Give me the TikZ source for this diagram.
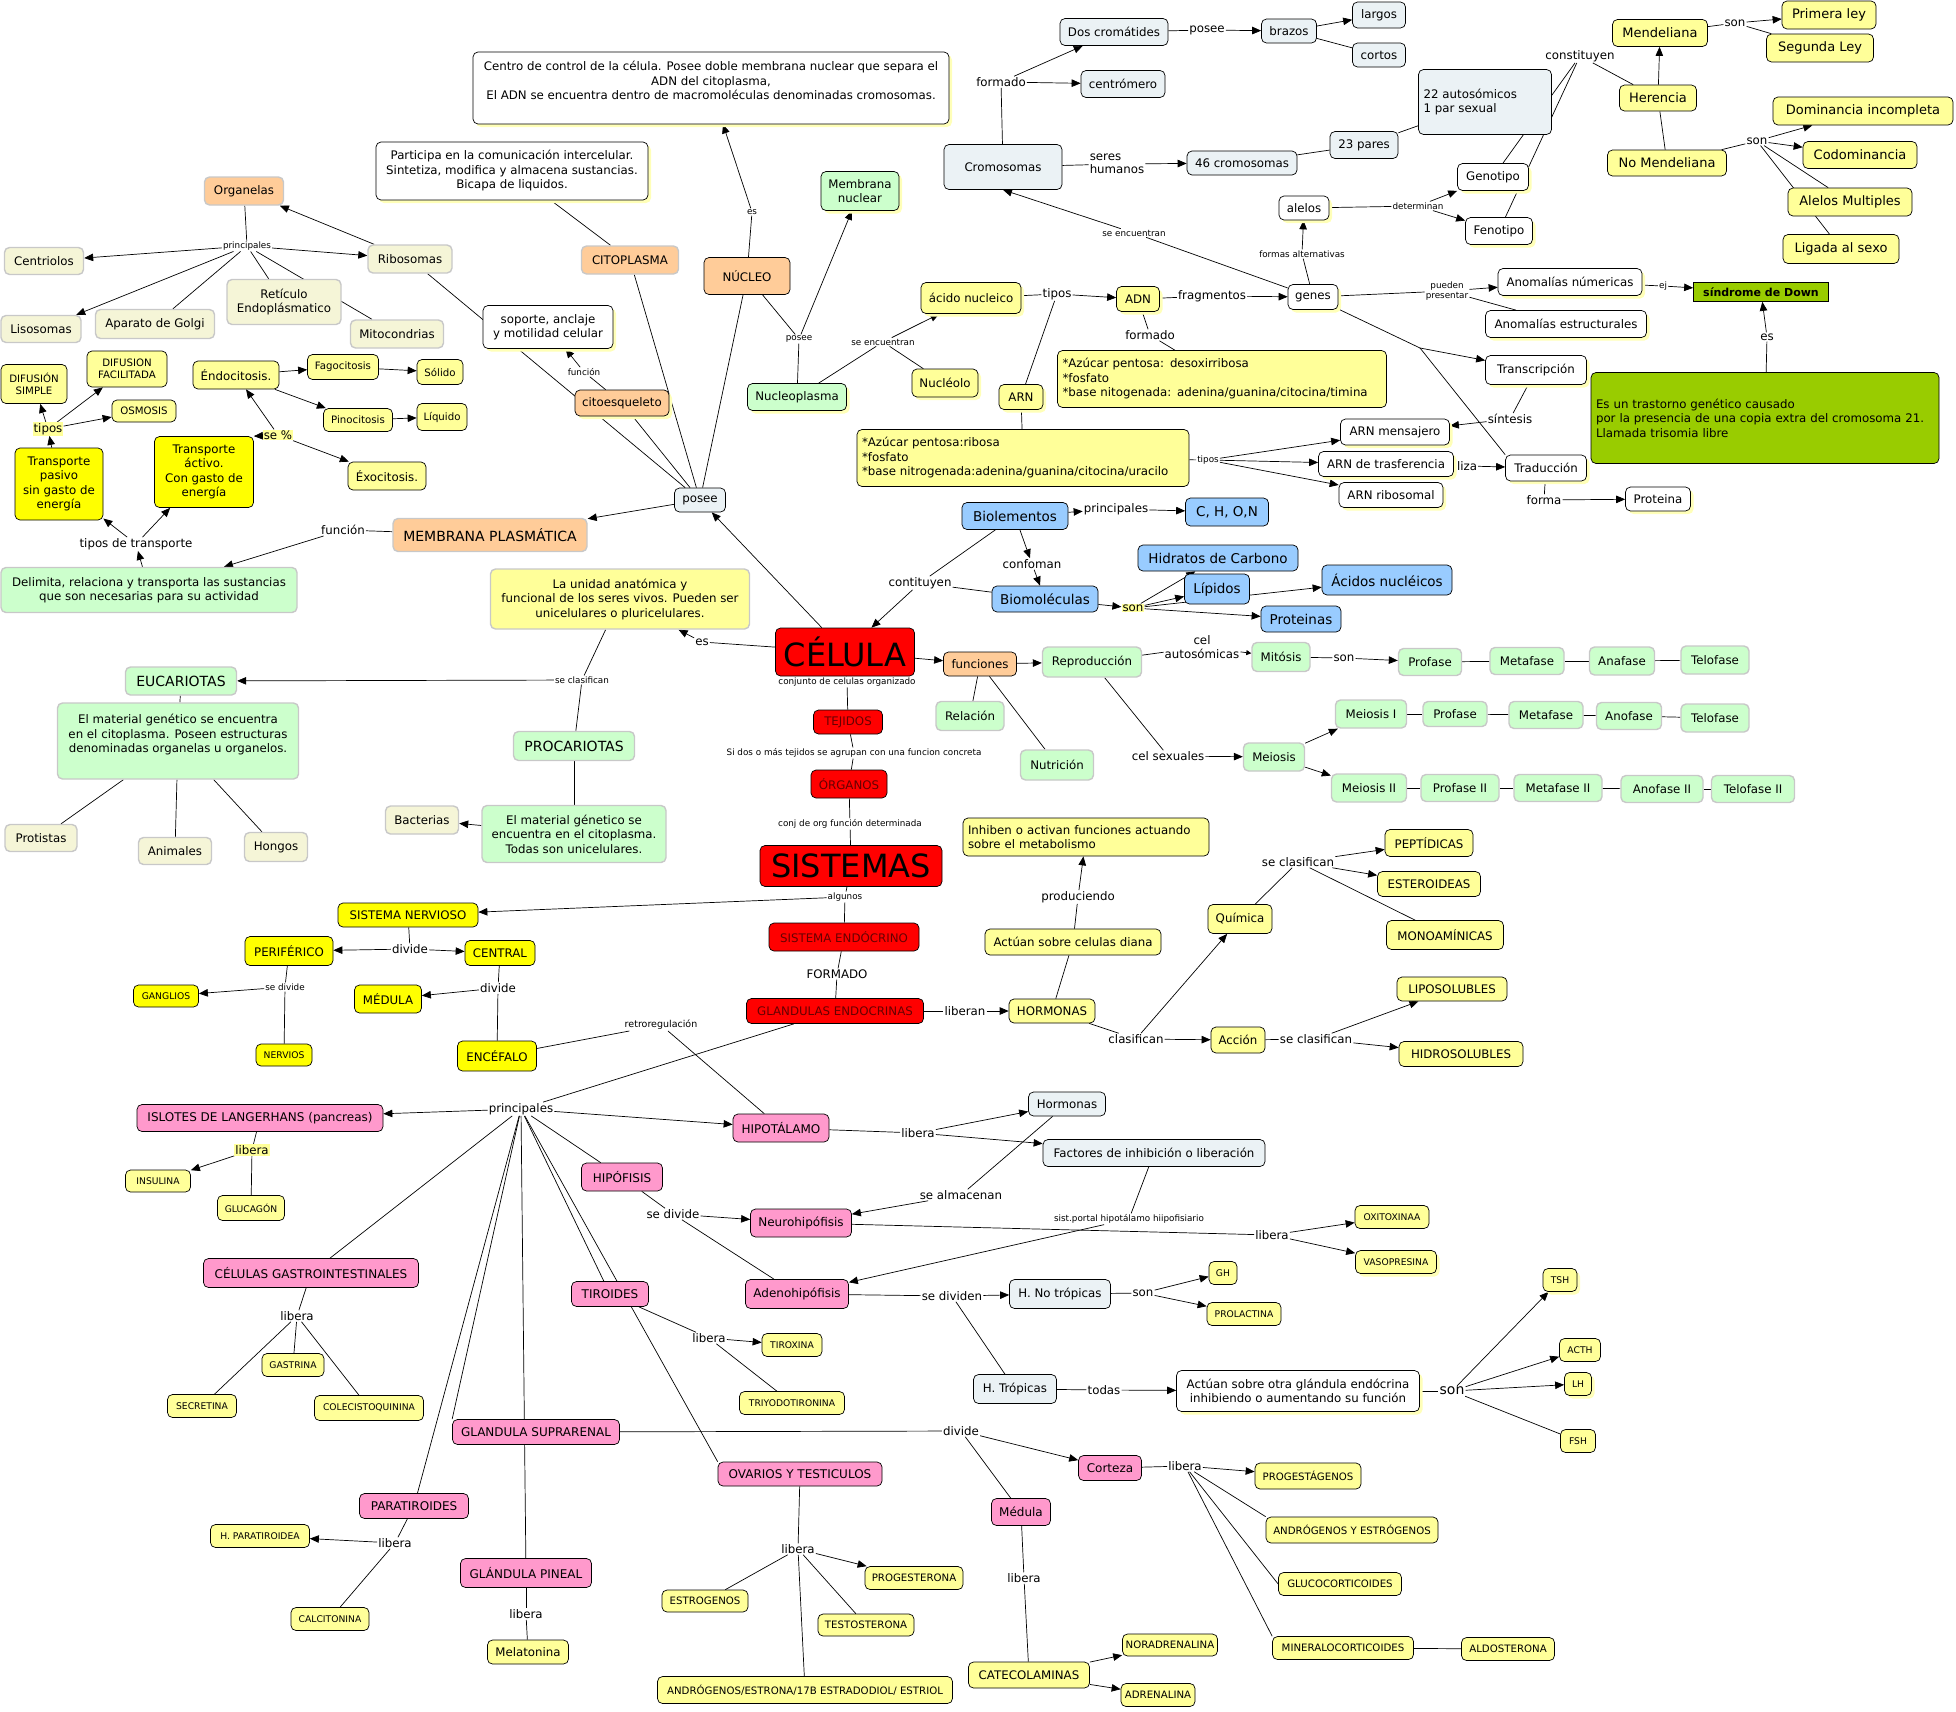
\documentclass[tikz,border=0pt]{standalone}
\usepackage{fontspec}
\setmainfont{DejaVu Sans}
\usetikzlibrary{arrows.meta,shadows}
\definecolor{cOr}{HTML}{FFCC99}
\definecolor{cYel}{HTML}{FFFF99}
\definecolor{cYelB}{HTML}{FFFF00}
\definecolor{cGrn}{HTML}{CCFFCC}
\definecolor{cBei}{HTML}{F5F5D7}
\definecolor{cBlu}{HTML}{99CCFF}
\definecolor{cGB}{HTML}{EBF2F5}
\definecolor{cPnk}{HTML}{FF99CC}
\definecolor{cRed}{HTML}{FF0000}
\definecolor{cDR}{HTML}{660000}
\definecolor{cOlv}{HTML}{99CC00}
\definecolor{cGry}{HTML}{C8C8C8}
\definecolor{cShd}{HTML}{FFFFB8}
\pgfdeclarelayer{bglayer}\pgfdeclarelayer{edges}\pgfsetlayers{bglayer,edges,main}
\newcommand\nd[7]{\node[#1,minimum width=#5pt,minimum height=#6pt] (#2) at (#3,#4) {#7};}
\newcommand\lb[5]{\node[lab,#1] (#2) at (#3,#4) {#5};}
\tikzset{
 box/.style={rounded corners=5pt, align=center, inner xsep=3pt, inner ysep=2pt, line width=0.7pt, font=\fontsize{11.8}{14.5}\selectfont},
 gry/.style={box, draw=cGry, line width=1.4pt},
 blk/.style={box, draw=black},
 shd/.style={drop shadow={shadow xshift=3pt,shadow yshift=-3pt,fill=cShd,opacity=1}},
 orG/.style={gry, fill=cOr}, orB/.style={blk, fill=cOr},
 bei/.style={gry, fill=cBei},
 grn/.style={gry, fill=cGrn}, grnB/.style={blk, fill=cGrn, shd},
 yel/.style={blk, fill=cYel}, yelG/.style={gry, fill=cYel},
 yeB/.style={blk, fill=cYelB},
 wht/.style={blk, fill=white, shd},
 gb/.style={blk, fill=cGB},
 blu/.style={blk, fill=cBlu, font=\fontsize{13.5}{16}\selectfont},
 pnk/.style={blk, fill=cPnk, font=\fontsize{12}{14.5}\selectfont},
 rd/.style={blk, fill=cRed, text=cDR},
 olv/.style={blk, fill=cOlv},
 xs/.style={font=\fontsize{9.2}{11}\selectfont},
 sm/.style={font=\fontsize{10.2}{12}\selectfont},
 big/.style={font=\fontsize{13}{15.5}\selectfont},
 bgf/.style={font=\fontsize{14}{16.5}\selectfont},
 lab/.style={inner sep=1pt, font=\fontsize{11.8}{13.5}\selectfont, align=center},
 ls/.style={font=\fontsize{8.8}{10.5}\selectfont},
 hl/.style={fill=cYel},
 ln/.style={line width=0.7pt},
 ar/.style={line width=0.7pt, -{Triangle[length=9pt,width=7.5pt]}},
 ars/.style={line width=0.7pt, -{Triangle[length=5pt,width=5pt]}},
}
\begin{document}
\begin{tikzpicture}[x=1pt,y=-1pt]
\useasboundingbox (0,0) rectangle (1956,1711);
\begin{pgfonlayer}{bglayer}\fill[white] (0,0) rectangle (1956,1711);\end{pgfonlayer}
% ---------- top-left ----------
\nd{orG}{org}{244}{191}{79}{28}{Organelas}
\lb{ls}{lbp1}{247}{246}{principales}
\nd{bei}{cen}{44}{261}{79}{27}{Centriolos}
\nd{bei}{rib}{410}{259}{84}{28}{Ribosomas}
\nd{bei}{lis}{41}{329}{80}{27}{Lisosomas}
\nd{bei}{gol}{155}{324}{119}{29}{Aparato de Golgi}
\nd{bei}{ret}{284}{302}{114}{45}{Retículo\\Endoplásmatico}
\nd{bei}{mit}{397}{334}{93}{28}{Mitocondrias}
\nd{wht}{part}{512}{171}{272}{58}{Participa en la comunicación intercelular.\\Sintetiza, modifica y almacena sustancias.\\Bicapa de liquidos.}
\nd{wht}{centro}{711}{88}{476}{72}{Centro de control de la célula. Posee doble membrana nuclear que separa el\\ADN del citoplasma,\\El ADN se encuentra dentro de macromoléculas denominadas cromosomas.\\\mbox{}}
\nd{yel,sm}{dsim}{34}{384}{66}{39}{DIFUSIÓN\\SIMPLE}
\nd{yel,sm}{dfac}{127}{369}{80}{36}{DIFUSION\\FACILITADA}
\nd{yel,sm}{osm}{144}{411}{64}{22}{OSMOSIS}
\lb{hl}{lbtip}{48}{429}{tipos}
\nd{yeB}{tpas}{59}{484}{88}{72}{Transporte\\pasivo\\sin gasto de\\energía}
\nd{yeB}{tact}{204}{472}{99}{71}{Transporte\\áctivo.\\Con gasto de\\energía}
\nd{yel}{endo}{236}{375}{86}{28}{Éndocitosis.}
\nd{yel,sm}{fago}{343}{367}{71}{25}{Fagocitosis}
\nd{yel,sm}{sol}{440}{372}{46}{25}{Sólido}
\nd{yel,sm}{pino}{358}{420}{69}{23}{Pinocitosis}
\nd{yel,sm}{liq}{442}{417}{50}{27}{Líquido}
\lb{hl}{lbsep}{278}{435}{se \%}
\nd{yel}{exo}{387}{476}{78}{28}{Éxocitosis.}
\lb{}{lbttr}{136}{544}{tipos de transporte}
\lb{}{lbfun}{343}{530}{función}
\nd{orG,bgf}{memb}{490}{535}{194}{33}{MEMBRANA PLASMÁTICA}
\nd{grn}{del}{149}{590}{296}{45}{Delimita, relaciona y transporta las sustancias\\que son necesarias para su actividad}
% ---------- centre-top ----------
\lb{ls}{lbes1}{752}{212}{es}
\nd{grnB}{mnuc}{860}{191}{78}{39}{Membrana\\nuclear}
\nd{orG}{cito}{630}{260}{97}{28}{CITOPLASMA}
\nd{orB}{nuc}{747}{276}{86}{37}{NÚCLEO}
\nd{wht}{sop}{548}{327}{130}{43}{soporte, anclaje\\y motilidad celular}
\lb{ls}{lbfun2}{584}{372}{función}
\nd{orB,shd}{cite}{622}{403}{94}{26}{citoesqueleto}
\nd{gb}{pos}{700}{500}{51}{24}{posee}
\lb{ls}{lbpos2}{799}{339}{posee}
\nd{grnB}{nucp}{797}{397}{99}{27}{Nucleoplasma}
\lb{ls}{lbsenc}{883}{342}{se encuentran}
\nd{yel,shd}{nucl}{945}{383}{66}{28}{Nucléolo}
\nd{yel,shd}{acn}{971}{298}{100}{31}{ácido nucleico}
% ---------- right-top ----------
\nd{gb}{dosc}{1114}{32}{108}{27}{Dos cromátides}
\lb{}{lbpos3}{1207}{30}{posee}
\nd{gb}{braz}{1289}{31}{55}{24}{brazos}
\nd{gb}{larg}{1379}{15}{53}{26}{largos}
\nd{gb}{cort}{1379}{55}{53}{24}{cortos}
\lb{}{lbform1}{1001}{82}{formado}
\nd{gb}{cmero}{1123}{84}{84}{27}{centrómero}
\nd{gb}{crom}{1003}{167}{118}{45}{Cromosomas}
\lb{align=left}{lbseres}{1117}{164}{seres\\humanos}
\nd{gb}{c46}{1242}{163}{110}{24}{46 cromosomas}
\nd{gb}{p23}{1364}{145}{68}{27}{23 pares}
\nd{gb,align=left,text width=123pt}{aut}{1485}{102}{133}{65}{22 autosómicos\\1 par sexual}
\nd{wht}{alel}{1304}{208}{50}{24}{alelos}
\lb{ls}{lbdet}{1418}{206}{determinan}
\lb{ls}{lbsenc2}{1134}{233}{se encuentran}
\lb{ls}{lbfalt}{1302}{254}{formas alternativas}
\nd{wht}{gen}{1313}{297}{50}{25}{genes}
\lb{ls}{lbpp}{1447}{291}{pueden\\presentar}
\lb{}{lbtip1}{1057}{294}{tipos}
\nd{yel,shd}{adn}{1138}{299}{43}{25}{ADN}
\lb{}{lbfrag}{1212}{296}{fragmentos}
\lb{}{lbform2}{1150}{335}{formado}
\nd{yel,align=left,text width=319pt}{desb}{1222}{379}{329}{57}{*Azúcar pentosa: desoxirribosa\\{}*fosfato\\{}*base nitogenada: adenina/guanina/citocina/timina}
\nd{yel,shd}{arn}{1021}{397}{44}{25}{ARN}
\nd{yel,align=left,text width=322pt}{ribb}{1023}{458}{332}{57}{*Azúcar pentosa:ribosa\\{}*fosfato\\{}*base nitrogenada:adenina/guanina/citocina/uracilo}
\lb{ls}{lbtip2}{1208}{460}{tipos}
\nd{wht}{arnm}{1395}{432}{109}{26}{ARN mensajero}
\nd{wht}{arnt}{1386}{464}{135}{25}{ARN de trasferencia}
\nd{wht}{arnr}{1391}{495}{104}{25}{ARN ribosomal}
\nd{blu}{bio}{1015}{516}{106}{27}{Biolementos}
\lb{}{lbp2}{1116}{509}{principales}
\nd{blu}{chon}{1227}{512}{83}{28}{C, H, O,N}
\lb{}{lbconf}{1032}{564}{confoman}
\nd{blu}{hid}{1218}{558}{160}{26}{Hidratos de Carbono}
\nd{blu}{biom}{1045}{599}{106}{26}{Biomoléculas}
\lb{hl}{lbson1}{1133}{608}{son}
\nd{blu}{lip}{1217}{589}{65}{30}{Lípidos}
\nd{blu}{acnu}{1387}{580}{130}{30}{Ácidos nucléicos}
\nd{blu}{prot}{1301}{619}{80}{26}{Proteinas}
% ---------- far right ----------
\nd{yel,big}{mend}{1660}{33}{95}{27}{Mendeliana}
\lb{}{lbson2}{1735}{23}{son}
\nd{yel,big}{prim}{1829}{15}{94}{28}{Primera ley}
\nd{yel,big}{seg}{1820}{48}{107}{28}{Segunda Ley}
\lb{}{lbconst}{1580}{56}{constituyen}
\nd{yel,big}{her}{1658}{98}{77}{26}{Herencia}
\nd{yel,big}{nomend}{1667}{163}{119}{26}{No Mendeliana}
\nd{yel,big}{dom}{1863}{111}{180}{28}{Dominancia incompleta}
\lb{}{lbson3}{1757}{141}{son}
\nd{yel,big}{cod}{1860}{155}{114}{27}{Codominancia}
\nd{yel,big}{alm}{1850}{202}{124}{28}{Alelos Multiples}
\nd{yel,big}{lig}{1841}{249}{116}{29}{Ligada al sexo}
\nd{wht}{geno}{1493}{177}{71}{27}{Genotipo}
\nd{wht}{feno}{1499}{231}{67}{27}{Fenotipo}
\nd{wht}{anum}{1570}{282}{144}{27}{Anomalías númericas}
\lb{ls}{lbej}{1663}{286}{ej}
\nd{olv,sharp corners,font=\fontsize{11}{13}\selectfont\bfseries}{down}{1761}{292}{135}{19}{síndrome de Down}
\nd{wht}{aest}{1566}{324}{161}{27}{Anomalías estructurales}
\lb{}{lbes2}{1767}{337}{es}
\nd{wht}{trans}{1536}{370}{101}{29}{Transcripción}
\nd{olv,align=left,text width=338pt}{ddesc}{1765}{418}{348}{91}{Es un trastorno genético causado\\por la presencia de una copia extra del cromosoma 21.\\Llamada trisomia libre}
\lb{}{lbsint}{1510}{419}{síntesis}
\nd{wht}{trad}{1546}{468}{81}{26}{Traducción}
\lb{}{lbliza}{1467}{466}{liza}
\lb{}{lbforma}{1544}{500}{forma}
\nd{wht}{prote}{1658}{499}{65}{24}{Proteina}
\coordinate (gx) at (1420,348);
% ---------- centre ----------
\nd{yelG}{unid}{620}{599}{259}{60}{La unidad anatómica y\\funcional de los seres vivos. Pueden ser\\unicelulares o pluricelulares.}
\lb{}{lbes3}{702}{642}{es}
\nd{blk,fill=cRed,font=\fontsize{32}{36}\selectfont}{cel}{845}{652}{139}{48}{CÉLULA}
\lb{ls}{lbconj}{847}{682}{conjunto de celulas organizado}
\nd{rd}{tej}{848}{722}{69}{24}{TEJIDOS}
\lb{ls}{lbsidos}{854}{753}{Si dos o más tejidos se agrupan con una funcion concreta}
\nd{rd}{org2}{849}{784}{76}{28}{ÓRGANOS}
\lb{ls}{lbconj2}{850}{824}{conj de org función determinada}
\nd{blk,fill=cRed,font=\fontsize{32}{36}\selectfont}{sis}{851}{866}{182}{41}{SISTEMAS}
\lb{ls}{lbalg}{845}{897}{algunos}
\nd{rd}{send}{844}{937}{150}{28}{SISTEMA ENDÓCRINO}
\lb{}{lbfmd}{837}{974}{FORMADO}
\nd{rd}{glen}{835}{1011}{177}{25}{GLANDULAS ENDOCRINAS}
\lb{}{lblib1}{965}{1011}{liberan}
\lb{}{lbcontit}{920}{583}{contituyen}
\nd{orB}{fun}{980}{664}{73}{24}{funciones}
\nd{grn}{rel}{970}{716}{68}{29}{Relación}
\nd{grn}{rep}{1092}{662}{99}{30}{Reproducción}
\lb{}{lbcauto}{1202}{647}{cel\\autosómicas}
\nd{grn}{mito}{1281}{657}{58}{29}{Mitósis}
\lb{}{lbson4}{1344}{658}{son}
\nd{grn}{prof}{1430}{662}{63}{27}{Profase}
\nd{grn}{meta}{1527}{661}{74}{27}{Metafase}
\nd{grn}{ana}{1622}{661}{65}{28}{Anafase}
\nd{grn}{telo}{1715}{660}{68}{28}{Telofase}
\nd{grn}{nutr}{1057}{765}{73}{30}{Nutrición}
\lb{}{lbcsex}{1168}{756}{cel sexuales}
\nd{grn}{meio}{1274}{757}{61}{28}{Meiosis}
\nd{grn}{mei1}{1371}{714}{71}{28}{Meiosis I}
\nd{grn}{prof1}{1455}{714}{64}{25}{Profase}
\nd{grn}{meta1}{1546}{715}{74}{27}{Metafase}
\nd{grn}{ana1}{1629}{716}{65}{27}{Anofase}
\nd{grn}{telo1}{1715}{718}{68}{28}{Telofase}
\nd{grn}{mei2}{1369}{788}{75}{28}{Meiosis II}
\nd{grn}{prof2}{1460}{788}{78}{27}{Profase II}
\nd{grn}{meta2}{1558}{788}{88}{27}{Metafase II}
\nd{grn}{ana2}{1662}{789}{82}{27}{Anofase II}
\nd{grn}{telo2}{1753}{789}{83}{27}{Telofase II}
% ---------- classification ----------
\lb{ls}{lbsecl}{582}{680}{se clasifican}
\nd{grn,bgf}{euc}{181}{681}{111}{28}{EUCARIOTAS}
\nd{grn}{eucb}{178}{741}{241}{76}{El material genético se encuentra\\en el citoplasma. Poseen estructuras\\denominadas organelas u organelos.\\\mbox{}}
\nd{bei}{prot2}{41}{838}{72}{27}{Protistas}
\nd{bei}{anim}{175}{851}{73}{27}{Animales}
\nd{bei}{hong}{276}{847}{63}{29}{Hongos}
\nd{grn,bgf}{proc}{574}{746}{121}{29}{PROCARIOTAS}
\nd{grn}{procb}{574}{834}{184}{57}{El material génetico se\\encuentra en el citoplasma.\\Todas son unicelulares.}
\nd{bei}{bact}{422}{820}{73}{28}{Bacterias}
% ---------- hormones ----------
\nd{yel,align=left,text width=236pt}{inh}{1086}{837}{246}{38}{Inhiben o activan funciones actuando\\sobre el metabolismo}
\lb{}{lbprod}{1078}{897}{produciendo}
\nd{yel}{actd}{1073}{942}{176}{26}{Actúan sobre celulas diana}
\nd{yel}{quim}{1240}{919}{64}{29}{Química}
\lb{}{lbsecl2}{1298}{862}{se clasifican}
\nd{yel}{pep}{1429}{843}{88}{27}{PEPTÍDICAS}
\nd{yel}{est}{1429}{884}{103}{25}{ESTEROIDEAS}
\nd{yel}{mono}{1445}{935}{117}{29}{MONOAMÍNICAS}
\nd{yel}{horm}{1052}{1011}{86}{24}{HORMONAS}
\lb{}{lbclas}{1136}{1039}{clasifican}
\nd{yel}{acc}{1238}{1040}{54}{26}{Acción}
\lb{}{lbsecl3}{1316}{1039}{se clasifican}
\nd{yel}{lipo}{1452}{989}{110}{24}{LIPOSOLUBLES}
\nd{yel}{hidro}{1461}{1054}{124}{25}{HIDROSOLUBLES}
% ---------- nervous ----------
\nd{yeB}{snerv}{408}{915}{140}{24}{SISTEMA NERVIOSO}
\nd{yeB}{peri}{289}{951}{88}{29}{PERIFÉRICO}
\lb{}{lbdiv1}{410}{949}{divide}
\nd{yeB}{cent2}{500}{953}{70}{25}{CENTRAL}
\nd{yeB,xs}{gang}{166}{996}{65}{22}{GANGLIOS}
\lb{ls}{lbsdiv}{285}{987}{se divide}
\nd{yeB}{med1}{388}{999}{67}{28}{MÉDULA}
\lb{}{lbdiv2}{498}{988}{divide}
\nd{yeB,xs}{nerv}{284}{1055}{56}{22}{NERVIOS}
\nd{yeB}{ence}{497}{1056}{79}{30}{ENCÉFALO}
% ---------- endocrine ----------
\lb{font=\fontsize{9.5}{11}\selectfont}{lbretro}{661}{1025}{retroregulación}
\lb{}{lbp3}{521}{1109}{principales}
\nd{pnk}{islo}{260}{1118}{246}{27}{ISLOTES DE LANGERHANS (pancreas)}
\nd{pnk}{hipo}{781}{1128}{96}{28}{HIPOTÁLAMO}
\lb{hl}{lblib2}{252}{1150}{libera}
\nd{yel,xs}{insu}{158}{1181}{65}{22}{INSULINA}
\nd{yel,xs}{gluc}{251}{1208}{67}{25}{GLUCAGÓN}
\nd{pnk}{cgas}{311}{1273}{215}{29}{CÉLULAS GASTROINTESTINALES}
\lb{}{lblib3}{297}{1316}{libera}
\nd{yel,xs}{gast}{293}{1365}{62}{23}{GASTRINA}
\nd{yel,xs}{secr}{202}{1406}{69}{23}{SECRETINA}
\nd{yel,xs}{cole}{369}{1408}{109}{25}{COLECISTOQUININA}
\nd{pnk}{para}{414}{1506}{109}{25}{PARATIROIDES}
\nd{yel,xs}{hpar}{260}{1536}{99}{23}{H. PARATIROIDEA}
\lb{}{lblib4}{395}{1543}{libera}
\nd{yel,xs}{calc}{330}{1619}{78}{23}{CALCITONINA}
\nd{pnk}{supr}{536}{1432}{167}{25}{GLANDULA SUPRARENAL}
\nd{pnk}{pine}{526}{1573}{131}{29}{GLÁNDULA PINEAL}
\lb{}{lblib5}{526}{1614}{libera}
\nd{yel}{mela}{528}{1652}{81}{24}{Melatonina}
\nd{pnk}{hipf}{622}{1177}{81}{28}{HIPÓFISIS}
\lb{}{lbsdiv2}{673}{1214}{se divide}
\nd{pnk}{neur}{801}{1223}{101}{28}{Neurohipófisis}
\nd{pnk}{aden}{797}{1294}{103}{29}{Adenohipófisis}
\lb{}{lbsdivn}{952}{1296}{se dividen}
\nd{pnk}{tiro}{610}{1294}{77}{25}{TIROIDES}
\lb{}{lblib6}{709}{1338}{libera}
\nd{yel,xs}{tirx}{792}{1345}{60}{23}{TIROXINA}
\nd{yel,xs}{triy}{792}{1403}{105}{23}{TRIYODOTIRONINA}
\lb{}{lbdiv3}{961}{1431}{divide}
\nd{pnk}{ovar}{800}{1474}{164}{24}{OVARIOS Y TESTICULOS}
\lb{}{lblib7}{798}{1549}{libera}
\nd{yel,sm}{prog}{914}{1578}{98}{23}{PROGESTERONA}
\nd{yel,sm}{estr}{705}{1601}{86}{22}{ESTROGENOS}
\nd{yel,sm}{test}{866}{1625}{96}{22}{TESTOSTERONA}
\nd{yel,sm}{andr}{805}{1690}{295}{27}{ANDRÓGENOS/ESTRONA/17B ESTRADODIOL/ ESTRIOL}
\nd{gb}{hor2}{1067}{1104}{77}{24}{Hormonas}
\lb{}{lblib8}{918}{1133}{libera}
\nd{gb}{fact}{1154}{1153}{222}{27}{Factores de inhibición o liberación}
\lb{}{lbsalm}{961}{1195}{se almacenan}
\lb{ls}{lbsport}{1129}{1219}{sist.portal hipotálamo hiipofisiario}
\lb{}{lblib9}{1272}{1235}{libera}
\nd{yel,xs}{oxi}{1392}{1217}{74}{23}{OXITOXINAA}
\nd{yel,xs,shd}{vaso}{1396}{1262}{81}{23}{VASOPRESINA}
\nd{yel,xs}{gh}{1223}{1273}{28}{23}{GH}
\nd{gb}{hnt}{1060}{1294}{101}{29}{H. No trópicas}
\lb{}{lbson5}{1143}{1293}{son}
\nd{yel,xs}{prol}{1244}{1314}{74}{23}{PROLACTINA}
\nd{gb}{ht}{1015}{1389}{83}{29}{H. Trópicas}
\lb{}{lbtodas}{1104}{1390}{todas}
\nd{wht}{actb}{1298}{1391}{243}{41}{Actúan sobre otra glándula endócrina\\inhibiendo o aumentando su función}
\lb{font=\fontsize{14}{16}\selectfont}{lbson6}{1452}{1391}{son}
\nd{yel,xs,shd}{tsh}{1560}{1280}{34}{23}{TSH}
\nd{yel,xs}{acth}{1580}{1350}{41}{23}{ACTH}
\nd{yel,xs,shd}{lh}{1578}{1384}{27}{23}{LH}
\nd{yel,xs}{fsh}{1578}{1441}{35}{23}{FSH}
\nd{pnk}{cort2}{1110}{1468}{63}{25}{Corteza}
\lb{}{lblib10}{1185}{1466}{libera}
\nd{yel,sm}{pgst}{1308}{1476}{106}{26}{PROGESTÁGENOS}
\nd{pnk}{medp}{1021}{1512}{59}{27}{Médula}
\nd{yel,sm}{aye}{1352}{1530}{172}{26}{ANDRÓGENOS Y ESTRÓGENOS}
\nd{yel,sm}{gluco}{1340}{1584}{123}{23}{GLUCOCORTICOIDES}
\lb{}{lblib11}{1024}{1578}{libera}
\nd{yel,sm}{mine}{1343}{1648}{141}{23}{MINERALOCORTICOIDES}
\nd{yel,sm}{ald}{1508}{1649}{93}{23}{ALDOSTERONA}
\nd{yel,sm}{nora}{1170}{1645}{95}{22}{NORADRENALINA}
\nd{yel}{cate}{1029}{1675}{121}{26}{CATECOLAMINAS}
\nd{yel,sm}{adre}{1158}{1695}{74}{23}{ADRENALINA}
% ================= EDGES =================
\begin{pgfonlayer}{edges}
\draw[ln] (org) -- (lbp1);
\draw[ar] (lbp1) -- (cen); \draw[ar] (lbp1) -- (rib); \draw[ar] (lbp1) -- (lis);
\draw[ln] (lbp1) -- (gol); \draw[ln] (lbp1) -- (ret); \draw[ln] (lbp1) -- (mit);
\draw[ar] (rib) -- (org);
\draw[ln] (pos) -- (rib);
\draw[ln] (pos) -- (cite);
\draw[ln] (cite) -- (lbfun2); \draw[ar] (lbfun2) -- (sop);
\draw[ln] (pos) -- (cito); \draw[ln] (cito) -- (part);
\draw[ln] (pos) -- (nuc);
\draw[ar] (pos) -- (memb);
\draw[ar] (cel) -- (pos);
\draw[ln] (nuc) -- (lbes1); \draw[ar] (lbes1) -- (centro);
\draw[ln] (nuc) -- (lbpos2); \draw[ln] (lbpos2) -- (nucp); \draw[ar] (lbpos2) -- (mnuc);
\draw[ln] (nucp) -- (lbsenc); \draw[ar] (lbsenc) -- (acn); \draw[ln] (lbsenc) -- (nucl);
\draw[ln] (memb) -- (lbfun); \draw[ar] (lbfun) -- (del);
\draw[ar] (del) -- (lbttr); \draw[ar] (lbttr) -- (tpas); \draw[ar] (lbttr) -- (tact);
\draw[ar] (tpas) -- (lbtip); \draw[ar] (lbtip) -- (dsim); \draw[ar] (lbtip) -- (dfac); \draw[ar] (lbtip) -- (osm);
\draw[ar] (lbsep) -- (tact.north east); \draw[ar] (lbsep) -- (endo); \draw[ar] (lbsep) -- (exo);
\draw[ar] (endo) -- (fago); \draw[ar] (endo) -- (pino); \draw[ar] (fago) -- (sol); \draw[ar] (pino) -- (liq);
% centre
\draw[ln] (cel) -- (lbes3); \draw[ar] (lbes3) -- (unid);
\draw[ar] (cel) -- (fun);
\draw[ln] (cel) -- (lbconj); \draw[ln] (lbconj) -- (tej);
\draw[ln] (tej) -- (lbsidos); \draw[ln] (lbsidos) -- (org2);
\draw[ln] (org2) -- (lbconj2); \draw[ln] (lbconj2) -- (sis);
\draw[ln] (sis) -- (lbalg); \draw[ar] (lbalg) -- (snerv); \draw[ln] (lbalg) -- (send);
\draw[ln] (send) -- (lbfmd); \draw[ln] (lbfmd) -- (glen);
\draw[ln] (glen) -- (lblib1); \draw[ar] (lblib1) -- (horm);
\draw[ln] (unid) -- (lbsecl); \draw[ar] (lbsecl) -- (euc); \draw[ln] (lbsecl) -- (proc);
\draw[ln] (euc) -- (eucb); \draw[ln] (eucb) -- (prot2); \draw[ln] (eucb) -- (anim); \draw[ln] (eucb) -- (hong);
\draw[ln] (proc) -- (procb); \draw[ar] (procb) -- (bact);
\draw[ln] (bio) -- (lbcontit); \draw[ln] (biom) -- (lbcontit); \draw[ar] (lbcontit) -- (cel);
\draw[ar] (bio) -- (lbp2); \draw[ar] (lbp2) -- (chon);
\draw[ar] (bio) -- (lbconf); \draw[ar] (lbconf) -- (biom);
\draw[ar] (biom) -- (lbson1); \draw[ar] (lbson1) -- (hid); \draw[ar] (lbson1) -- (lip);
\draw[ar] (lbson1) -- (acnu); \draw[ar] (lbson1) -- (prot);
\draw[ar] (fun) -- (rep); \draw[ln] (fun) -- (rel); \draw[ln] (fun) -- (nutr);
\draw[ln] (rep) -- (lbcauto); \draw[ars] (lbcauto) -- (mito);
\draw[ln] (mito) -- (lbson4); \draw[ar] (lbson4) -- (prof);
\draw[ln] (prof) -- (meta); \draw[ln] (meta) -- (ana); \draw[ln] (ana) -- (telo);
\draw[ln] (rep) -- (lbcsex); \draw[ar] (lbcsex) -- (meio);
\draw[ar] (meio) -- (mei1); \draw[ar] (meio) -- (mei2);
\draw[ln] (mei1) -- (prof1); \draw[ln] (prof1) -- (meta1); \draw[ln] (meta1) -- (ana1); \draw[ln] (ana1) -- (telo1);
\draw[ln] (mei2) -- (prof2); \draw[ln] (prof2) -- (meta2); \draw[ln] (meta2) -- (ana2); \draw[ln] (ana2) -- (telo2);
% right-top
\draw[ln] (crom) -- (lbform1); \draw[ar] (lbform1) -- (dosc); \draw[ar] (lbform1) -- (cmero);
\draw[ln] (dosc) -- (lbpos3); \draw[ar] (lbpos3) -- (braz); \draw[ar] (braz) -- (larg); \draw[ln] (braz) -- (cort);
\draw[ln] (crom) -- (lbseres); \draw[ar] (lbseres) -- (c46); \draw[ln] (c46) -- (p23); \draw[ln] (p23) -- (aut);
\draw[ln] (gen) -- (lbsenc2); \draw[ar] (lbsenc2) -- (crom.south);
\draw[ln] (acn) -- (lbtip1); \draw[ar] (lbtip1) -- (adn); \draw[ln] (lbtip1) -- (arn);
\draw[ln] (adn) -- (lbfrag); \draw[ar] (lbfrag) -- (gen);
\draw[ln] (adn) -- (lbform2); \draw[ln] (lbform2) -- (desb);
\draw[ln] (arn) -- (ribb);
\draw[ln] (ribb) -- (lbtip2); \draw[ar] (lbtip2) -- (arnm); \draw[ar] (lbtip2) -- (arnt); \draw[ar] (lbtip2) -- (arnr);
\draw[ln] (gen) -- (lbfalt); \draw[ar] (lbfalt) -- (alel);
\draw[ln] (alel) -- (lbdet); \draw[ar] (lbdet) -- (geno); \draw[ar] (lbdet) -- (feno);
\draw[ln] (geno) -- (lbconst); \draw[ln] (feno) -- (lbconst); \draw[ln] (lbconst) -- (her);
\draw[ar] (her) -- (mend); \draw[ln] (her) -- (nomend);
\draw[ln] (mend) -- (lbson2); \draw[ar] (lbson2) -- (prim); \draw[ln] (lbson2) -- (seg);
\draw[ln] (nomend) -- (lbson3); \draw[ar] (lbson3) -- (dom); \draw[ar] (lbson3) -- (cod);
\draw[ln] (lbson3) -- (alm); \draw[ln] (lbson3) -- (lig);
\draw[ln] (gen) -- (lbpp); \draw[ar] (lbpp) -- (anum); \draw[ln] (lbpp) -- (aest);
\draw[ln] (anum) -- (lbej); \draw[ar] (lbej) -- (down);
\draw[ln] (ddesc) -- (lbes2); \draw[ar] (lbes2) -- (down);
\draw[ln] (gen) -- (gx); \draw[ar] (gx) -- (trans); \draw[ln] (gx) -- (trad.north west);
\draw[ln] (trans) -- (lbsint); \draw[ar] (lbsint) -- (arnm);
\draw[ln] (arnt) -- (lbliza); \draw[ar] (lbliza) -- (trad);
\draw[ln] (trad) -- (lbforma); \draw[ar] (lbforma) -- (prote);
% nervous
\draw[ln] (snerv) -- (lbdiv1); \draw[ar] (lbdiv1) -- (peri); \draw[ar] (lbdiv1) -- (cent2);
\draw[ln] (peri) -- (lbsdiv); \draw[ar] (lbsdiv) -- (gang); \draw[ln] (lbsdiv) -- (nerv);
\draw[ln] (cent2) -- (lbdiv2); \draw[ar] (lbdiv2) -- (med1); \draw[ln] (lbdiv2) -- (ence);
\draw[ln] (ence) -- (lbretro); \draw[ln] (lbretro) -- (hipo);
% hormones
\draw[ln] (horm) -- (actd); \draw[ln] (actd) -- (lbprod); \draw[ar] (lbprod) -- (inh);
\draw[ln] (horm) -- (lbclas); \draw[ar] (lbclas) -- (quim); \draw[ar] (lbclas) -- (acc);
\draw[ln] (quim) -- (lbsecl2); \draw[ar] (lbsecl2) -- (pep); \draw[ar] (lbsecl2) -- (est); \draw[ln] (lbsecl2) -- (mono);
\draw[ln] (acc) -- (lbsecl3); \draw[ar] (lbsecl3) -- (lipo); \draw[ar] (lbsecl3) -- (hidro);
% endocrine
\draw[ln] (glen) -- (lbp3); \draw[ar] (lbp3) -- (islo); \draw[ar] (lbp3) -- (hipo);
\draw[ln] (lbp3) -- (hipf); \draw[ln] (lbp3) -- (tiro); \draw[ln] (lbp3) -- (ovar.north west);
\draw[ln] (lbp3) -- (supr.north west); \draw[ln] (lbp3) -- (pine); \draw[ln] (lbp3) -- (para); \draw[ln] (lbp3) -- (cgas);
\draw[ln] (islo) -- (lblib2); \draw[ar] (lblib2) -- (insu); \draw[ln] (lblib2) -- (gluc);
\draw[ln] (cgas) -- (lblib3); \draw[ln] (lblib3) -- (gast); \draw[ln] (lblib3) -- (secr); \draw[ln] (lblib3) -- (cole);
\draw[ln] (para) -- (lblib4); \draw[ar] (lblib4) -- (hpar); \draw[ln] (lblib4) -- (calc);
\draw[ln] (pine) -- (lblib5); \draw[ln] (lblib5) -- (mela);
\draw[ln] (supr) -- (lbdiv3); \draw[ar] (lbdiv3) -- (cort2); \draw[ln] (lbdiv3) -- (medp);
\draw[ln] (cort2) -- (lblib10); \draw[ar] (lblib10) -- (pgst); \draw[ln] (lblib10) -- (aye.north west);
\draw[ln] (lblib10) -- (gluco.west); \draw[ln] (lblib10) -- (mine.north west);
\draw[ln] (mine) -- (ald);
\draw[ln] (medp) -- (lblib11); \draw[ln] (lblib11) -- (cate); \draw[ar] (cate) -- (nora); \draw[ar] (cate) -- (adre);
\draw[ln] (ovar) -- (lblib7); \draw[ar] (lblib7) -- (prog); \draw[ln] (lblib7) -- (estr); \draw[ln] (lblib7) -- (test); \draw[ln] (lblib7) -- (andr);
\draw[ln] (tiro) -- (lblib6); \draw[ar] (lblib6) -- (tirx); \draw[ln] (lblib6) -- (triy);
\draw[ln] (hipf) -- (lbsdiv2); \draw[ar] (lbsdiv2) -- (neur); \draw[ln] (lbsdiv2) -- (aden);
\draw[ln] (hipo) -- (lblib8); \draw[ar] (lblib8) -- (hor2); \draw[ar] (lblib8) -- (fact);
\draw[ln] (hor2) -- (lbsalm); \draw[ar] (lbsalm) -- (neur);
\draw[ln] (fact) -- (lbsport); \draw[ar] (lbsport) -- (aden);
\draw[ln] (neur) -- (lblib9); \draw[ar] (lblib9) -- (oxi); \draw[ar] (lblib9) -- (vaso);
\draw[ln] (aden) -- (lbsdivn); \draw[ar] (lbsdivn) -- (hnt); \draw[ln] (lbsdivn) -- (ht);
\draw[ln] (hnt) -- (lbson5); \draw[ar] (lbson5) -- (gh); \draw[ar] (lbson5) -- (prol);
\draw[ln] (ht) -- (lbtodas); \draw[ar] (lbtodas) -- (actb);
\draw[ln] (actb) -- (lbson6); \draw[ar] (lbson6) -- (tsh); \draw[ar] (lbson6) -- (acth); \draw[ar] (lbson6) -- (lh); \draw[ln] (lbson6) -- (fsh);
\end{pgfonlayer}
\end{tikzpicture}
\end{document}
